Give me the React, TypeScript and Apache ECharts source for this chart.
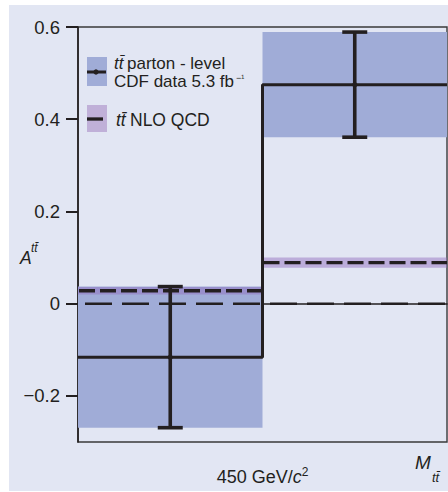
import React, { useEffect, useRef } from "react";
import * as echarts from "echarts";

// Mass bins on a two-slot axis: [0,1) below 450 GeV/c², [1,2] above
const binEdges: number[][] = [
  [0, 1],
  [1, 2],
];
// CDF parton-level asymmetry per bin and its total uncertainty
const dataValues: number[] = [-0.116, 0.475];
const dataErrors: number[] = [0.153, 0.114];
// NLO QCD prediction per bin and its uncertainty
const nloValues: number[] = [0.028, 0.089];
const nloErrors: number[] = [0.008, 0.011];
const yTickValues: number[] = [-0.2, 0, 0.2, 0.4, 0.6];
const xTickValues: number[] = [1];
const referenceLevel: number[] = [0];

const FONT = "'Liberation Sans', Arial, sans-serif";
const INK = "#231f20";
const PANEL = "#e2e6f3";
const BLUE = "#a0acd7";
const PURPLE = "rgba(147,110,191,0.48)";

const txt = (
  text: string,
  x: number,
  y: number,
  size: number,
  italic = false
) => ({
  type: "text",
  x,
  y,
  z: 11,
  silent: true,
  style: {
    text,
    fontFamily: FONT,
    fontSize: size,
    fontStyle: italic ? "italic" : "normal",
    fill: INK,
    verticalAlign: "middle",
  },
});

export default function App() {
  const ref = useRef<HTMLDivElement>(null);

  useEffect(() => {
    if (!ref.current) return;
    const chart = echarts.init(ref.current, null, { renderer: "svg" });

    const dataBands = binEdges.map((e, i) => [
      e[0],
      e[1],
      dataValues[i] - dataErrors[i],
      dataValues[i] + dataErrors[i],
    ]);
    const nloBands = binEdges.map((e, i) => [
      e[0],
      e[1],
      nloValues[i] - nloErrors[i],
      nloValues[i] + nloErrors[i],
    ]);
    const nloLines = binEdges.map((e, i) => [e[0], e[1], nloValues[i]]);
    const errorBars = binEdges.map((e, i) => [
      (e[0] + e[1]) / 2,
      dataValues[i],
      dataValues[i] - dataErrors[i],
      dataValues[i] + dataErrors[i],
    ]);
    const stepPoints = [
      ...binEdges.map((e, i) => [e[0], dataValues[i]]),
      [binEdges[binEdges.length - 1][1], dataValues[dataValues.length - 1]],
    ];
    const xMin = binEdges[0][0];
    const xMax = binEdges[binEdges.length - 1][1];
    const zeroLine = referenceLevel.map((v) => [xMin, xMax, v]);

    const bandRenderer = (fill: string) => (params: any, api: any) => {
      const topLeft = api.coord([api.value(0), api.value(3)]);
      const bottomRight = api.coord([api.value(1), api.value(2)]);
      return {
        type: "rect",
        shape: {
          x: topLeft[0],
          y: topLeft[1],
          width: bottomRight[0] - topLeft[0],
          height: bottomRight[1] - topLeft[1],
        },
        style: { fill },
      };
    };

    const hLineRenderer =
      (width: number, dash: number[], dashOffset: number, inset: number) =>
      (params: any, api: any) => {
        const a = api.coord([api.value(0), api.value(2)]);
        const b = api.coord([api.value(1), api.value(2)]);
        return {
          type: "line",
          shape: { x1: a[0] + inset, y1: a[1], x2: b[0], y2: b[1] },
          style: {
            stroke: INK,
            lineWidth: width,
            lineDash: dash,
            lineDashOffset: dashOffset,
          },
        };
      };

    const option: any = {
      animation: false,
      grid: {
        left: 78,
        right: 1,
        top: 27,
        bottom: 50,
        show: true,
        borderColor: "#3a3a3a",
        borderWidth: 1.4,
        backgroundColor: "transparent",
      },
      xAxis: {
        type: "value",
        min: xMin,
        max: xMax,
        splitLine: { show: false },
        axisLine: { show: true, lineStyle: { color: INK, width: 1.6 } },
        axisTick: {
          show: true,
          customValues: xTickValues,
          length: 12,
          inside: false,
          lineStyle: { color: INK, width: 2 },
        },
        axisLabel: {
          customValues: xTickValues,
          margin: 24,
          formatter: () => "{a|450 GeV/}{i|c}{s|2}",
          rich: {
            a: { fontFamily: FONT, fontSize: 18, color: INK },
            i: { fontFamily: FONT, fontSize: 18, color: INK, fontStyle: "italic" },
            s: {
              fontFamily: FONT,
              fontSize: 12,
              color: INK,
              verticalAlign: "top",
              lineHeight: 22,
            },
          },
        },
      },
      yAxis: {
        type: "value",
        min: -0.3,
        max: 0.6,
        splitLine: { show: false },
        axisLine: { show: true, lineStyle: { color: INK, width: 1.6 } },
        axisTick: {
          show: true,
          customValues: yTickValues,
          length: 12,
          inside: false,
          lineStyle: { color: INK, width: 2 },
        },
        axisLabel: {
          customValues: yTickValues,
          margin: 18,
          fontFamily: FONT,
          fontSize: 18.5,
          color: INK,
          formatter: (v: number) =>
            v === 0 ? "0" : v < 0 ? "\u2212" + Math.abs(v).toFixed(1) : v.toFixed(1),
        },
      },
      series: [
        {
          type: "custom",
          name: "data band",
          z: 1,
          encode: { x: [0, 1], y: [2, 3] },
          data: dataBands,
          renderItem: bandRenderer(BLUE),
          silent: true,
        },
        {
          type: "custom",
          name: "nlo band",
          z: 2,
          encode: { x: [0, 1], y: [2, 3] },
          data: nloBands,
          renderItem: bandRenderer(PURPLE),
          silent: true,
        },
        {
          type: "custom",
          name: "zero",
          z: 3,
          encode: { x: [0, 1], y: 2 },
          data: zeroLine,
          renderItem: hLineRenderer(2.5, [27, 10], 30, 0),
          silent: true,
        },
        {
          type: "custom",
          name: "nlo line",
          z: 4,
          encode: { x: [0, 1], y: 2 },
          data: nloLines,
          renderItem: hLineRenderer(3.3, [16, 5], 0, 1),
          silent: true,
        },
        {
          type: "line",
          name: "data",
          z: 5,
          step: "end",
          data: stepPoints,
          symbol: "none",
          lineStyle: { color: INK, width: 3 },
          silent: true,
        },
        {
          type: "custom",
          name: "errors",
          z: 6,
          encode: { x: 0, y: [1, 2, 3] },
          data: errorBars,
          renderItem: (params: any, api: any) => {
            const c = api.coord([api.value(0), api.value(1)]);
            const lo = api.coord([api.value(0), api.value(2)]);
            const hi = api.coord([api.value(0), api.value(3)]);
            const half = 12.5;
            const st = { stroke: INK, lineWidth: 3.6 };
            return {
              type: "group",
              children: [
                { type: "line", shape: { x1: c[0], y1: lo[1], x2: c[0], y2: hi[1] }, style: st },
                { type: "line", shape: { x1: c[0] - half, y1: lo[1], x2: c[0] + half, y2: lo[1] }, style: st },
                { type: "line", shape: { x1: c[0] - half, y1: hi[1], x2: c[0] + half, y2: hi[1] }, style: st },
                { type: "circle", shape: { cx: c[0], cy: c[1], r: 2.6 }, style: { fill: INK } },
              ],
            };
          },
          silent: true,
        },
      ],
      graphic: [
        {
          type: "rect",
          z: -10,
          shape: { x: 9, y: 5, width: 439, height: 486 },
          style: { fill: PANEL },
          silent: true,
        },
        // legend: data
        { type: "rect", shape: { x: 87, y: 57, width: 20, height: 29 }, style: { fill: BLUE }, z: 10, silent: true },
        { type: "line", shape: { x1: 87, y1: 72, x2: 106, y2: 72 }, style: { stroke: INK, lineWidth: 3 }, z: 11, silent: true },
        { type: "circle", shape: { cx: 96, cy: 72, r: 2.6 }, style: { fill: INK }, z: 11, silent: true },
        txt("tt\u0304", 114, 63, 17, true),
        txt("parton - level", 127, 63, 17),
        txt("CDF data 5.3 fb", 114, 81.5, 17),
        txt("\u2212\u00B9", 236, 78, 9),
        // legend: NLO
        { type: "rect", shape: { x: 87, y: 105, width: 20, height: 27 }, style: { fill: "#c0b0d8" }, z: 10, silent: true },
        { type: "line", shape: { x1: 87, y1: 119, x2: 103, y2: 119 }, style: { stroke: INK, lineWidth: 3.3 }, z: 11, silent: true },
        txt("tt\u0304", 116, 120, 17.5, true),
        txt("NLO QCD", 130, 120, 17.5),
        // y-axis title
        txt("A", 20, 258, 17.5, true),
        txt("tt\u0304", 31, 248, 12, true),
        // x-axis title
        txt("M", 415, 462, 19, true),
        txt("tt\u0304", 432, 477, 13, true),
      ],
    };

    chart.setOption(option);
    return () => chart.dispose();
  }, []);

  return (
    <div
      ref={ref}
      style={{ position: "fixed", left: 0, top: 0, width: 448, height: 492, background: "#ffffff" }}
    />
  );
}
